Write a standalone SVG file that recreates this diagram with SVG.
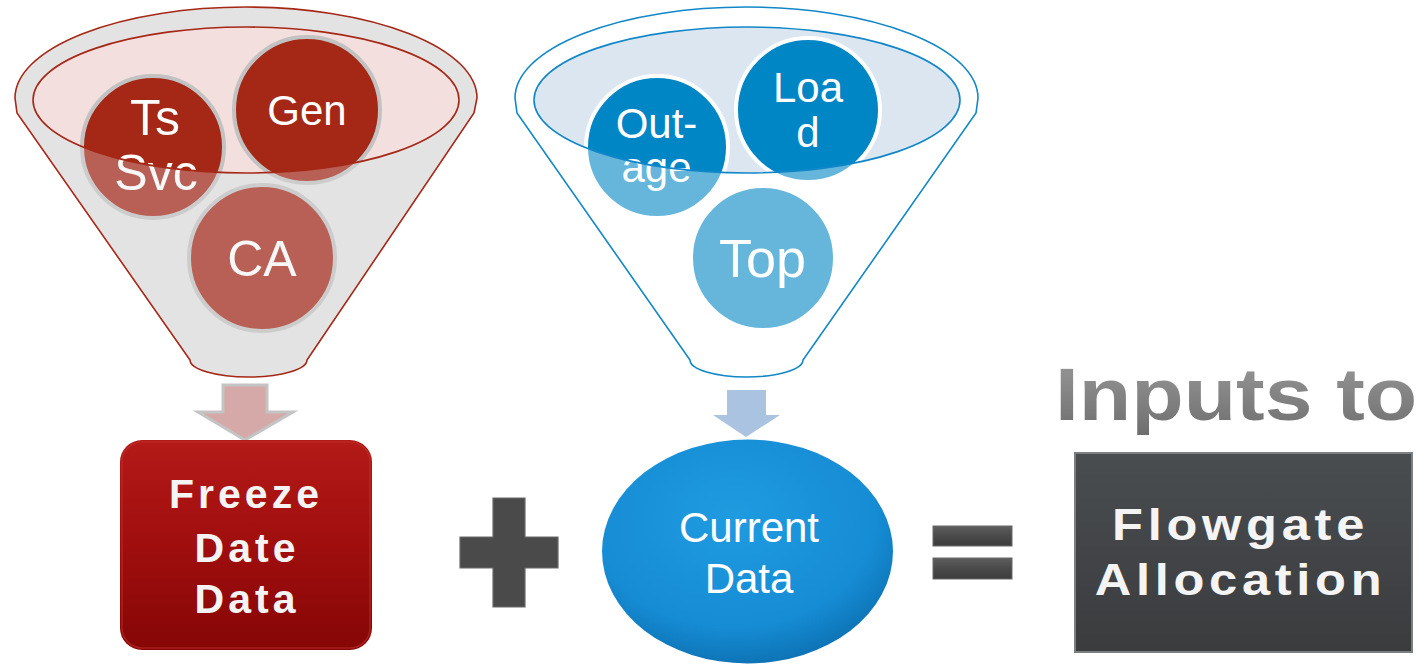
<svg xmlns="http://www.w3.org/2000/svg" width="1425" height="666" viewBox="0 0 1425 666">
  <style>
    .lbl { font-family: "Liberation Sans", Arial, sans-serif; fill: #ffffff; text-anchor: middle; }
    .box { font-family: "Liberation Sans", Arial, sans-serif; fill: #f4f4f4; text-anchor: middle; font-weight: bold; }
    .rc { fill: #A52817; stroke: #C2C2C2; stroke-width: 4; }
    .bc { fill: #0086C4; stroke: #ffffff; stroke-width: 4; }
    .bar { fill: url(#gBar); stroke: #6a6a6a; stroke-width: 1; }
  </style>
  <defs>
    <linearGradient id="gFreeze" x1="0" y1="0" x2="0" y2="1">
      <stop offset="0" stop-color="#B31A18"/>
      <stop offset="0.5" stop-color="#A00E0E"/>
      <stop offset="1" stop-color="#860606"/>
    </linearGradient>
    <radialGradient id="gCur" cx="0.45" cy="0.35" r="0.7">
      <stop offset="0" stop-color="#1F9BE0"/>
      <stop offset="0.7" stop-color="#168CD4"/>
      <stop offset="1" stop-color="#0B6DAE"/>
    </radialGradient>
    <linearGradient id="gFlow" x1="0" y1="0" x2="0" y2="1">
      <stop offset="0" stop-color="#4A4D50"/>
      <stop offset="1" stop-color="#3A3C3E"/>
    </linearGradient>
    <linearGradient id="gBar" x1="0" y1="0" x2="0" y2="1">
      <stop offset="0" stop-color="#5E5E5E"/>
      <stop offset="0.5" stop-color="#4A4A4A"/>
      <stop offset="1" stop-color="#3C3C3C"/>
    </linearGradient>
    <linearGradient id="gInputs" x1="0" y1="0" x2="0" y2="1">
      <stop offset="0" stop-color="#9A9A9A"/>
      <stop offset="1" stop-color="#6E6E6E"/>
    </linearGradient>
  </defs>

  <!-- Red funnel -->
  <g id="funnel-red">
    <path d="M17,113 L15,98 A231 91 0 0 1 477,98 L474,113 L307,360 A58.5 17 0 0 1 190,360 Z" fill="#E3E3E3"/>
    <ellipse cx="246" cy="100" rx="213" ry="73" fill="#F3DFDD"/>
    <g id="node-tssvc">
      <circle class="rc" cx="153" cy="147" r="71"/>
      <text class="lbl" x="155" y="135" font-size="50">Ts</text>
      <text class="lbl" x="156" y="190" font-size="50">Svc</text>
    </g>
    <g id="node-gen">
      <circle class="rc" cx="307" cy="110" r="73"/>
      <text class="lbl" x="307" y="125" font-size="42">Gen</text>
    </g>
    <g id="node-ca">
      <circle class="rc" cx="262" cy="258" r="73"/>
      <text class="lbl" x="262" y="276" font-size="50">CA</text>
    </g>
    <path d="M17,113 L15,98 A231 91 0 0 1 477,98 L474,113 L307,360 A58.5 17 0 0 1 190,360 Z M33,100 A213 73 0 1 0 459,100 A213 73 0 1 0 33,100 Z" fill="#E6E6E6" fill-opacity="0.3" fill-rule="evenodd"/>
    <ellipse cx="246" cy="100" rx="213" ry="73" fill="none" stroke="#A52817" stroke-width="1.6"/>
    <path d="M17,113 L15,98 A231 91 0 0 1 477,98 L474,113 L307,360 A58.5 17 0 0 1 190,360 Z" fill="none" stroke="#A52817" stroke-width="1.6"/>
  </g>

  <!-- Blue funnel -->
  <g id="funnel-blue">
    <path d="M517,113 L515,98 A231.5 91 0 0 1 978,98 L976,113 L803,360 A56.5 17 0 0 1 690,360 Z" fill="#FFFFFF"/>
    <ellipse cx="747" cy="100" rx="213" ry="73" fill="#DCE6F1"/>
    <g id="node-outage">
      <circle class="bc" cx="657" cy="147" r="71"/>
      <text class="lbl" x="656.5" y="138" font-size="42">Out-</text>
      <text class="lbl" x="656.5" y="182" font-size="42">age</text>
    </g>
    <g id="node-load">
      <circle class="bc" cx="808" cy="110" r="72"/>
      <text class="lbl" x="808" y="102" font-size="42">Loa</text>
      <text class="lbl" x="808" y="147" font-size="42">d</text>
    </g>
    <g id="node-top">
      <circle class="bc" cx="763" cy="258" r="72"/>
      <text class="lbl" x="762.5" y="277" font-size="54">Top</text>
    </g>
    <path d="M517,113 L515,98 A231.5 91 0 0 1 978,98 L976,113 L803,360 A56.5 17 0 0 1 690,360 Z M534,100 A213 73 0 1 0 960,100 A213 73 0 1 0 534,100 Z" fill="#FFFFFF" fill-opacity="0.4" fill-rule="evenodd"/>
    <ellipse cx="747" cy="100" rx="213" ry="73" fill="none" stroke="#1287C8" stroke-width="1.6"/>
    <path d="M517,113 L515,98 A231.5 91 0 0 1 978,98 L976,113 L803,360 A56.5 17 0 0 1 690,360 Z" fill="none" stroke="#1287C8" stroke-width="1.6"/>
  </g>

  <!-- Connectors (down arrows) -->
  <g id="connectors">
    <path d="M223,385 L267,385 L267,412 L293,412 L245,440 L198,412 L223,412 Z" fill="#D4A9A7" stroke="#C4C4C4" stroke-width="3" stroke-linejoin="miter"/>
    <path d="M727,390 L766,390 L766,415 L780,415 L746,437 L713,415 L727,415 Z" fill="#A9C3E1"/>
  </g>

  <!-- Freeze Date Data -->
  <g id="node-freeze">
    <rect x="120" y="440" width="252" height="210" rx="22" ry="22" fill="url(#gFreeze)"/>
    <rect x="122" y="442" width="248" height="206" rx="20" ry="20" fill="none" stroke="#C0302C" stroke-width="1.5" stroke-opacity="0.6"/>
    <text class="box" x="246" y="508" font-size="41" letter-spacing="4">Freeze</text>
    <text class="box" x="247" y="562" font-size="41" letter-spacing="4">Date</text>
    <text class="box" x="247" y="613" font-size="41" letter-spacing="4">Data</text>
  </g>

  <!-- Plus -->
  <g id="plus">
    <path d="M493,498 L525,498 L525,537 L558,537 L558,568 L525,568 L525,607 L493,607 L493,568 L460,568 L460,537 L493,537 Z" fill="#4A4A4A" stroke="#6a6a6a" stroke-width="1.2"/>
  </g>

  <!-- Current Data -->
  <g id="node-current">
    <ellipse cx="747.5" cy="551.5" rx="145.5" ry="112" fill="url(#gCur)"/>
    <text class="lbl" x="749" y="542" font-size="42">Current</text>
    <text class="lbl" x="749" y="593" font-size="42">Data</text>
  </g>

  <!-- Equals -->
  <g id="equals">
    <rect class="bar" x="933" y="526" width="79" height="20"/>
    <rect class="bar" x="933" y="558" width="79" height="21"/>
  </g>

  <!-- Inputs to Flowgate Allocation -->
  <g id="title-inputs">
    <text transform="translate(1055,420) scale(1.16,1)" x="0" y="0" font-family="'Liberation Sans', Arial, sans-serif" font-weight="bold" font-size="74" fill="url(#gInputs)">Inputs to</text>
  </g>
  <g id="node-flowgate">
    <rect x="1075" y="453" width="337" height="199" fill="url(#gFlow)" stroke="#7C7F82" stroke-width="2"/>
    <text class="box" transform="translate(1240.5,540) scale(1.15,1)" x="0" y="0" font-size="44" letter-spacing="4.1">Flowgate</text>
    <text class="box" transform="translate(1240.5,595) scale(1.15,1)" x="0" y="0" font-size="44" letter-spacing="4.1">Allocation</text>
  </g>
</svg>
